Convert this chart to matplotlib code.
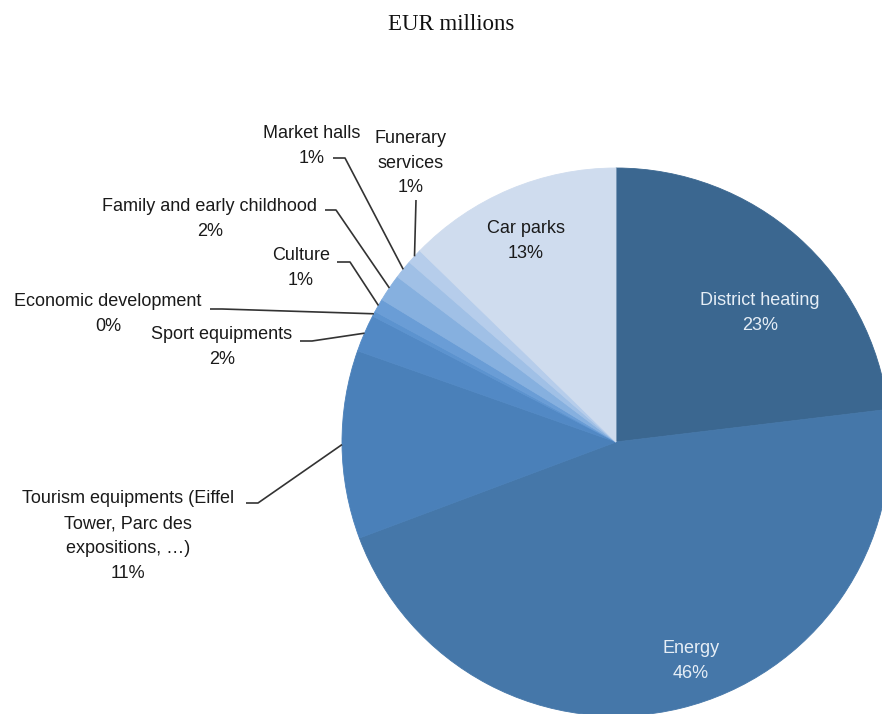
import matplotlib.pyplot as plt
import numpy as np

W, H = 882, 714

names = ['District heating', 'Energy',
         'Tourism equipments (Eiffel\nTower, Parc des\nexpositions, \u2026)',
         'Sport equipments', 'Economic development', 'Culture',
         'Family and early childhood', 'Market halls',
         'Funerary\nservices', 'Car parks']
shares = [23.1, 46.2, 11.1, 2.2, 0.3, 0.8, 1.6, 1.1, 0.9, 12.7]
colors = ['#3B6790', '#4577A9', '#4A80B9', '#5289C5', '#5C93CF',
          '#6A9DD6', '#86B0DF', '#A0C0E6', '#B6CDEB', '#CFDCEE']

plt.rcParams['font.family'] = ['Liberation Sans', 'DejaVu Sans']
LS = 1.6

fig = plt.figure(figsize=(W / 100, H / 100), dpi=100)
ax = fig.add_axes([0, 0, 1, 1])

cx, cy, r = 616, H - 442, 274
wedges, _ = ax.pie(shares, colors=colors, startangle=90, counterclock=False,
                   center=(cx, cy), radius=r,
                   wedgeprops=dict(linewidth=0.6))
for w in wedges:
    w.set_edgecolor(w.get_facecolor())

ax.set_xlim(0, W)
ax.set_ylim(0, H)
ax.set_aspect('equal')
ax.axis('off')


def edge_point(w):
    a = np.deg2rad((w.theta1 + w.theta2) / 2)
    return cx + r * np.cos(a), cy + r * np.sin(a)


def label(i, txt_xy, kink=None):
    name = names[i]
    ax.text(txt_xy[0], H - txt_xy[1], f'{name}\n{shares[i]:.0f}%',
            ha='center', va='center', fontsize=13, color='#1a1a1a',
            linespacing=LS)
    if kink is not None:
        ex, ey = edge_point(wedges[i])
        xs = [kink[0], kink[2], ex]
        ys = [H - kink[1], H - kink[1], ey]
        ax.plot(xs, ys, color='#333333', lw=1.2, solid_capstyle='butt')


# labels inside the big wedges
ax.text(760, H - 313, f'{names[0]}\n{shares[0]:.0f}%', ha='center',
        va='center', fontsize=13, color='#E6EEF6', linespacing=LS)
ax.text(691, H - 661, f'{names[1]}\n{shares[1]:.0f}%', ha='center',
        va='center', fontsize=13, color='#E6EEF6', linespacing=LS)
ax.text(526, H - 241, f'{names[9]}\n{shares[9]:.0f}%', ha='center',
        va='center', fontsize=13, color='#1a1a1a', linespacing=LS)

# outside labels with leader lines: (text centre), (line start x, y, kink x)
label(2, (128, 536), (246, 503, 258))
label(3, (222, 347), (300, 341, 312))
label(4, (108, 314), (210, 309, 222))
label(5, (301, 268), (337, 262, 350))
label(6, (210, 219), (325, 210, 336))
label(7, (312, 146), (333, 158, 345))
label(8, (411, 163), (416, 200, 416))

fig.text(0.511, 1 - 25 / H, 'EUR millions', ha='center', va='center',
         fontsize=16.5, family='Liberation Serif', color='#111111')

fig.savefig('out.png', dpi=100)
